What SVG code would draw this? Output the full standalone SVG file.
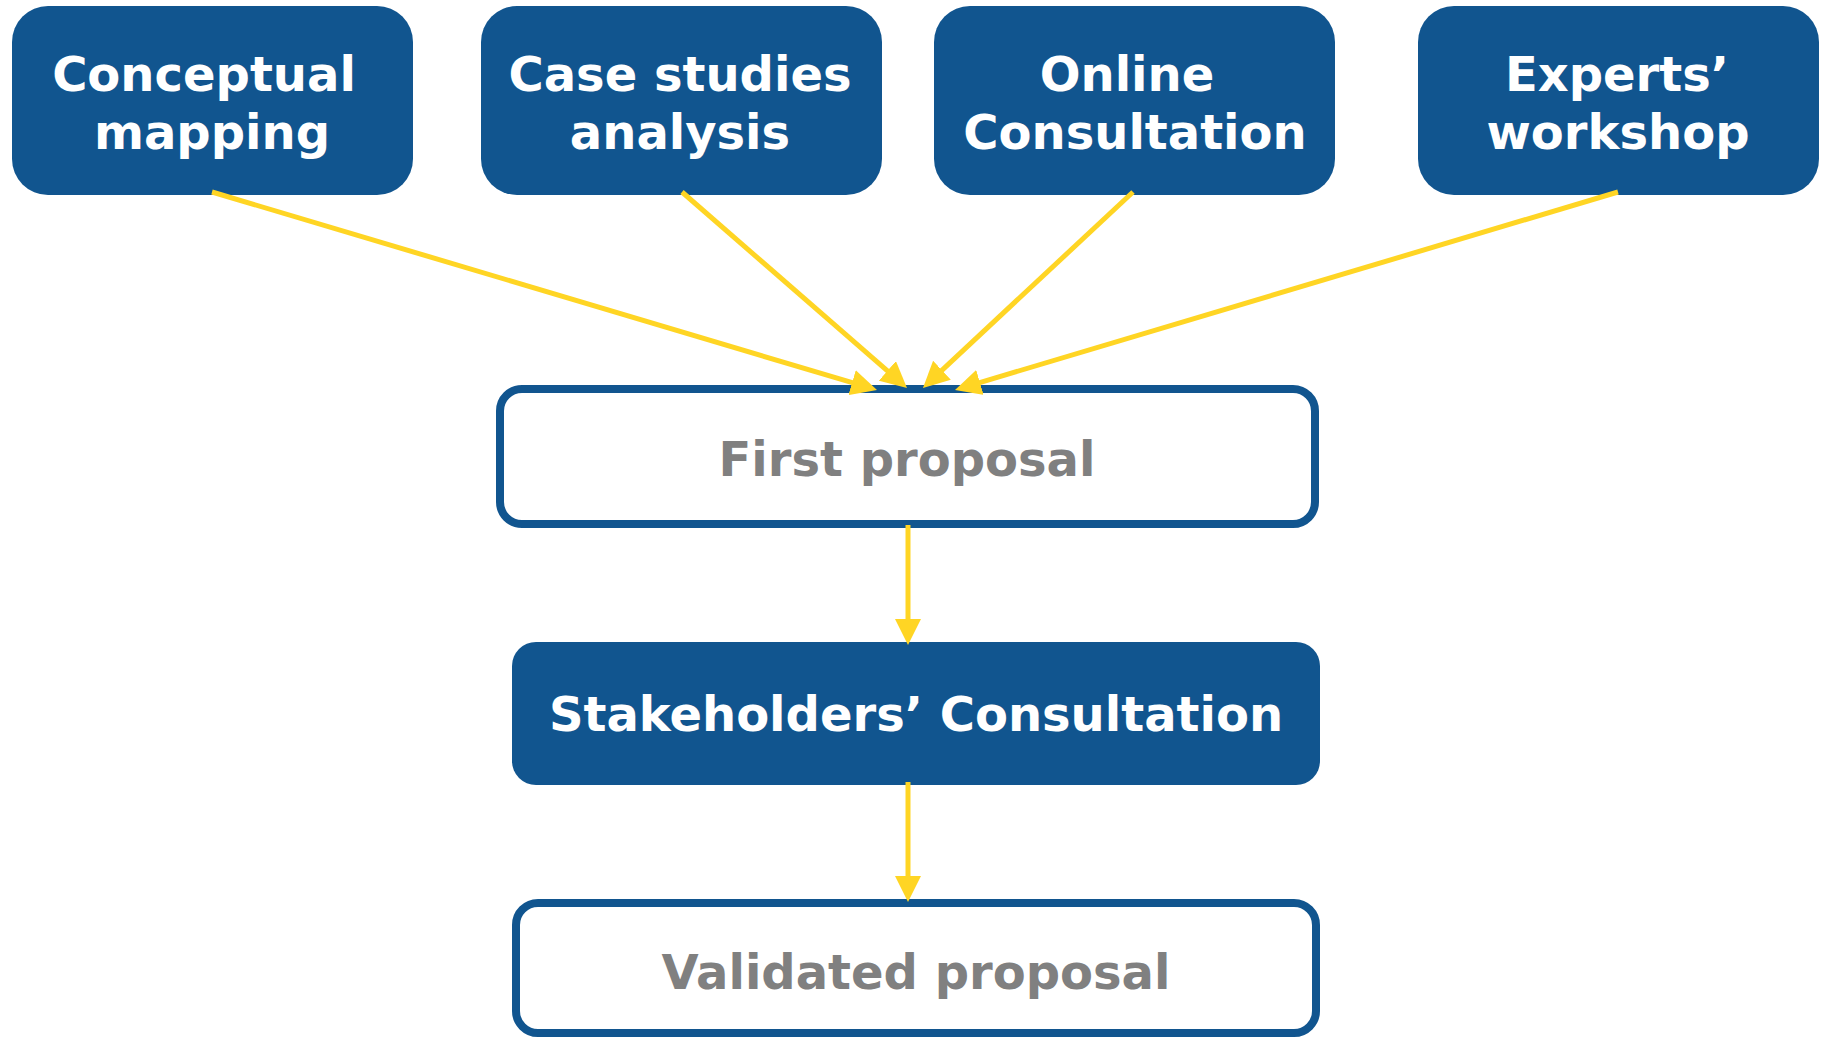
<svg xmlns="http://www.w3.org/2000/svg" width="1821" height="1038" viewBox="0 0 1821 1038">
<style>
.fill{fill:#11558F;}
.outline{fill:#FFFFFF;stroke:#11558F;stroke-width:8;}
.wt{font-family:"DejaVu Sans","Verdana",sans-serif;font-weight:bold;font-size:48px;fill:#FFFFFF;text-anchor:middle;}
.gt{font-family:"DejaVu Sans","Verdana",sans-serif;font-weight:bold;font-size:48px;fill:#808080;text-anchor:middle;}
.conn{stroke:#FFD524;stroke-width:5;fill:none;marker-end:url(#ah);}
</style>
<defs>
<marker id="ah" viewBox="0 -13 26 26" markerWidth="26" markerHeight="26" refX="2" refY="0" orient="auto" markerUnits="userSpaceOnUse">
<path d="M0,-13 L26,0 L0,13 z" fill="#FFD524"/>
</marker>
</defs>
<rect width="1821" height="1038" fill="#FFFFFF"/>
<g id="conceptual-mapping">
<rect class="fill" x="12" y="6" width="401" height="189" rx="36" ry="36"/>
<text class="wt" x="204" y="91">Conceptual</text>
<text class="wt" x="212" y="149">mapping</text>
</g>
<g id="case-studies-analysis">
<rect class="fill" x="481" y="6" width="401" height="189" rx="36" ry="36"/>
<text class="wt" x="680" y="91">Case studies</text>
<text class="wt" x="680" y="149">analysis</text>
</g>
<g id="online-consultation">
<rect class="fill" x="934" y="6" width="401" height="189" rx="36" ry="36"/>
<text class="wt" x="1127" y="91">Online</text>
<text class="wt" x="1135" y="149">Consultation</text>
</g>
<g id="experts-workshop">
<rect class="fill" x="1418" y="6" width="401" height="189" rx="36" ry="36"/>
<text class="wt" x="1617" y="91">Experts’</text>
<text class="wt" x="1618" y="149">workshop</text>
</g>
<g id="first-proposal">
<rect class="outline" x="500" y="389" width="815" height="135" rx="22" ry="22"/>
<text class="gt" x="907" y="476">First proposal</text>
</g>
<g id="stakeholders-consultation">
<rect class="fill" x="512" y="642" width="808" height="143" rx="24" ry="24"/>
<text class="wt" x="916" y="731">Stakeholders’ Consultation</text>
</g>
<g id="validated-proposal">
<rect class="outline" x="516" y="903" width="800" height="130" rx="22" ry="22"/>
<text class="gt" x="916" y="989">Validated proposal</text>
</g>
<g id="connectors">
<line class="conn" x1="212" y1="192" x2="854" y2="383.2"/>
<line class="conn" x1="682" y1="192" x2="888.9" y2="372.2"/>
<line class="conn" x1="1133" y1="192" x2="940.5" y2="371.6"/>
<line class="conn" x1="1618" y1="192" x2="978" y2="383.1"/>
<line class="conn" x1="908" y1="525" x2="908" y2="621"/>
<line class="conn" x1="908" y1="782" x2="908" y2="878"/>
</g>
</svg>
